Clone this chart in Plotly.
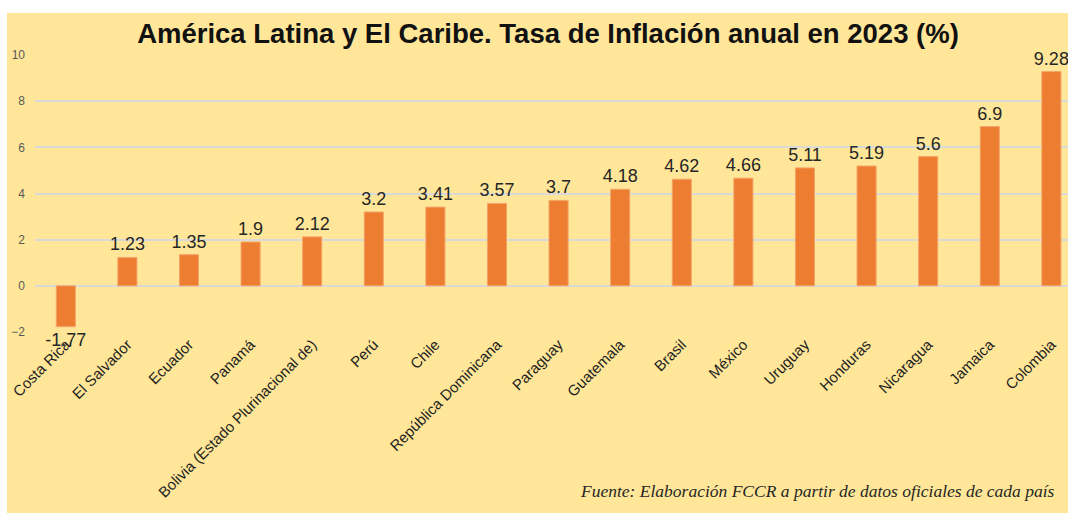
import plotly.graph_objects as go

paises = ["Costa Rica", "El Salvador", "Ecuador", "Panamá", "Bolivia (Estado Plurinacional de)",
          "Perú", "Chile", "República Dominicana", "Paraguay", "Guatemala", "Brasil", "México",
          "Uruguay", "Honduras", "Nicaragua", "Jamaica", "Colombia"]
inflacion = [-1.77, 1.23, 1.35, 1.9, 2.12, 3.2, 3.41, 3.57, 3.7, 4.18, 4.62, 4.66,
             5.11, 5.19, 5.6, 6.9, 9.28]
y_ticks = [-2, 0, 2, 4, 6, 8, 10]
etiquetas = [str(v) for v in inflacion]

W, H = 1068, 513
ML, MR, MT, MB = 35, 0, 55, 181
pw, ph = W - ML - MR, H - MT - MB

def px_x(p):
    return (p - ML) / pw

def px_y(p):
    return (H - MB - p) / ph

fig = go.Figure(go.Bar(
    x=list(range(len(paises))), y=inflacion,
    marker=dict(color="#ED7D31", line=dict(width=1, color="#F4A46A")),
    width=0.31,
    text=etiquetas, textposition="outside", constraintext="none", textangle=0,
    textfont=dict(family="Liberation Sans, Arial", size=18, color="#262626"),
    cliponaxis=False,
))

fig.update_layout(
    width=W, height=H,
    margin=dict(l=ML, r=MR, t=MT, b=MB),
    paper_bgcolor="#FFE699", plot_bgcolor="#FFE699",
    showlegend=False,
    title=dict(text="<b>América Latina y El Caribe. Tasa de Inflación anual en 2023 (%)</b>",
               x=(548) / W, xanchor="center", y=1 - 33 / H, yanchor="middle",
               font=dict(family="Liberation Sans, Arial", size=27.5, color="#111111")),
    xaxis=dict(range=[-0.5, 16.27], tickmode="array", tickvals=list(range(len(paises))),
               ticktext=paises, tickangle=-45, showgrid=False, zeroline=False,
               showline=False, ticks="",
               tickfont=dict(family="Liberation Sans, Arial", size=15, color="#1f1f1f")),
    yaxis=dict(range=[-2, 10], tickmode="array", tickvals=y_ticks, showgrid=True,
               gridcolor="#D9D9D9", gridwidth=1.5, zeroline=True, zerolinecolor="#D9D9D9",
               zerolinewidth=1.5, showline=False, ticks="", ticklabelstandoff=9,
               tickfont=dict(family="Liberation Sans, Arial", size=12, color="#595959")),
    shapes=[
        dict(type="rect", xref="paper", yref="paper", x0=px_x(0), x1=px_x(W + 5),
             y0=px_y(13), y1=px_y(-5), fillcolor="white", line=dict(width=0), layer="above"),
        dict(type="rect", xref="paper", yref="paper", x0=px_x(-5), x1=px_x(7),
             y0=px_y(H + 5), y1=px_y(0), fillcolor="white", line=dict(width=0), layer="above"),
    ],
    annotations=[
        dict(text="<i>Fuente: Elaboración FCCR a partir de datos oficiales de cada país</i>",
             xref="paper", yref="paper", x=px_x(578), y=px_y(491), xanchor="left",
             yanchor="middle", showarrow=False,
             font=dict(family="Liberation Serif, Times New Roman", size=17.5, color="#262626")),
    ],
)

fig.write_html("out.html", config={"displayModeBar": False},
               post_script="document.body.style.margin='0';document.body.style.overflow='hidden';")
